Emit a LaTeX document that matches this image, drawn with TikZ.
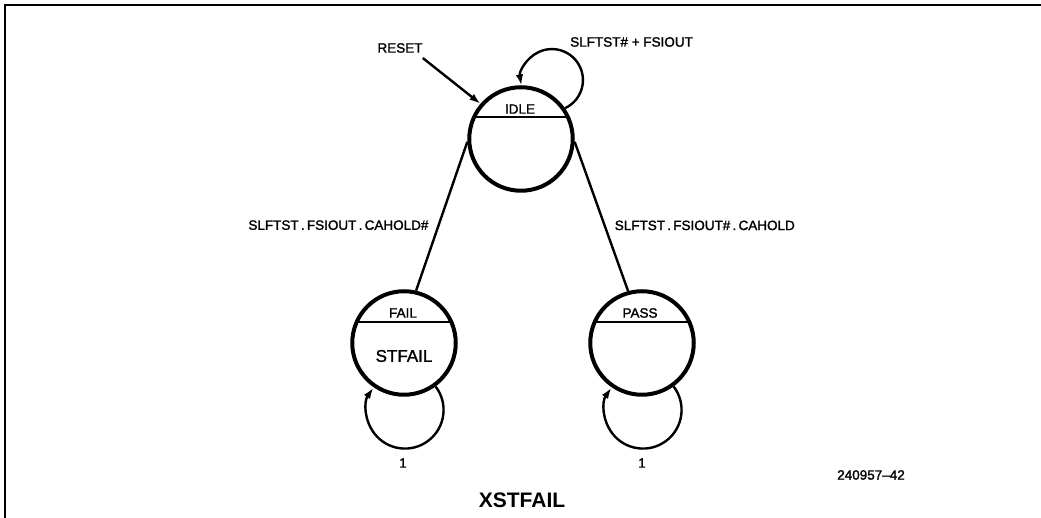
\documentclass[tikz,border=0pt]{standalone}
\usepackage{fontspec}
\setmainfont{Liberation Sans}
\newfontfamily\medfont[FakeBold=1.6,Ligatures=TeX]{Liberation Sans}
\usetikzlibrary{arrows.meta,calc}
\begin{document}
\begin{tikzpicture}[x=1pt,y=1pt,
  state/.style={circle,draw,line width=4pt,minimum size=103.5pt,inner sep=0pt},
  chord/.style={line width=2pt},
  edge/.style={line width=2.4pt},
  arr/.style={line width=2.4pt,-{Latex[length=11pt,width=7.5pt]}},
  lbl/.style={font=\medfont\fontsize{13.5}{15}\selectfont,inner sep=0pt},
  big/.style={font=\medfont\fontsize{17}{19}\selectfont,inner sep=0pt},
  title/.style={font=\fontsize{21}{23}\selectfont\bfseries,inner sep=0pt}]
\useasboundingbox (0,0) rectangle (1041,518);
% frame
\draw[line width=2pt] (5,0) -- (5,513) -- (1041,513);
% states
\node[state] (idle) at (521,379) {};
\node[state] (fail) at (404,175) {};
\node[state] (pass) at (642,175) {};
% chords
\draw[chord] ($(idle.center)+(-47.1,22)$) -- ($(idle.center)+(47.1,22)$);
\draw[chord] ($(fail.center)+(-47.6,21)$) -- ($(fail.center)+(47.6,21)$);
\draw[chord] ($(pass.center)+(-47.6,21)$) -- ($(pass.center)+(47.6,21)$);
% state texts
\node[lbl] (tidle) at (520,409) {IDLE};
\node[lbl] (tfail) at (403,205) {FAIL};
\node[lbl] (tpass) at (640,205) {PASS};
\node[big] (tstfail) at (404,162) {STFAIL};
% transitions
\draw[edge] (idle.183) -- node[lbl,pos=0.56,anchor=east,xshift=-9pt] (l1) {SLFTST\,.\,FSIOUT\,.\,CAHOLD\#} (fail.77);
\draw[edge] (idle.-3) -- node[lbl,pos=0.56,anchor=west,xshift=9pt] (l2) {SLFTST\,.\,FSIOUT\#\,.\,CAHOLD} (pass.105);
% reset
\node[lbl] (reset) at (400,470) {RESET};
\draw[arr] ($(reset.south east)+(0,-5)$) -- (idle.139);
% self loops
\draw[arr] (idle.35) arc[start angle=-65,end angle=190,radius=31];
\node[lbl,anchor=west] (l3) at (570,476) {SLFTST\# + FSIOUT};
\draw[arr] (fail.-54) arc[start angle=37.5,end angle=-215,radius=38.6];
\node[lbl] (one1) at (403,55) {1};
\draw[arr] (pass.-54) arc[start angle=37.5,end angle=-215,radius=38.6];
\node[lbl] (one2) at (642,55) {1};
% captions
\node[lbl,anchor=east] (fig) at (905,43) {240957\textendash42};
\node[title] (ttl) at (522,18) {XSTFAIL};
\end{tikzpicture}
\end{document}
